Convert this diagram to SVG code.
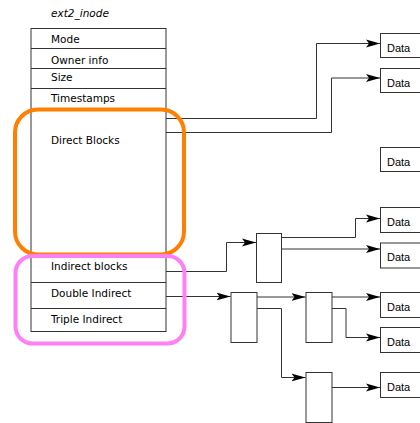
<svg xmlns="http://www.w3.org/2000/svg" width="420" height="423" viewBox="0 0 420 423">
  <defs>
    <marker id="arrow" markerUnits="userSpaceOnUse" markerWidth="15" markerHeight="10" refX="14" refY="5" orient="auto">
      <path d="M0,1 L14,5 L0,9 L3,5 Z" fill="#000"/>
    </marker>
    <style>
      .box { fill: #fff; stroke: #333; stroke-width: 1; }
      .row { stroke: #333; stroke-width: 1; }
      .field { font-family: "DejaVu Sans", sans-serif; font-size: 10.5px; fill: #000; }
      .title { font-family: "DejaVu Sans", sans-serif; font-size: 10.5px; font-style: italic; fill: #000; }
      .data { font-family: "Liberation Sans", Arial, sans-serif; font-size: 11px; fill: #000; }
      .wire { fill: none; stroke: #333; stroke-width: 1; marker-end: url(#arrow); }
    </style>
  </defs>
  <rect width="420" height="423" fill="#fff"/>

  <!-- inode structure -->
  <g id="inode">
    <text class="title" x="51" y="17">ext2_inode</text>
    <rect class="box" x="31" y="28.5" width="135" height="303"/>
    <line class="row" x1="31" y1="48.5" x2="166" y2="48.5"/>
    <line class="row" x1="31" y1="68.5" x2="166" y2="68.5"/>
    <line class="row" x1="31" y1="88.5" x2="166" y2="88.5"/>
    <line class="row" x1="31" y1="256.5" x2="166" y2="256.5"/>
    <line class="row" x1="31" y1="282.5" x2="166" y2="282.5"/>
    <line class="row" x1="31" y1="308.5" x2="166" y2="308.5"/>
    <text class="field" x="51" y="43">Mode</text>
    <text class="field" x="51" y="64">Owner info</text>
    <text class="field" x="51" y="81">Size</text>
    <text class="field" x="51" y="102">Timestamps</text>
    <text class="field" x="51" y="144">Direct Blocks</text>
    <text class="field" x="51" y="270">Indirect blocks</text>
    <text class="field" x="51" y="297">Double Indirect</text>
    <text class="field" x="51" y="323">Triple Indirect</text>
  </g>

  <!-- pointer blocks -->
  <g id="ind1"><rect class="box" x="256.5" y="233.5" width="25" height="49"/></g>
  <g id="dind1"><rect class="box" x="231" y="292.5" width="26" height="50"/></g>
  <g id="dind2"><rect class="box" x="306" y="292.5" width="26" height="50"/></g>
  <g id="dind3"><rect class="box" x="306" y="372.5" width="26" height="50"/></g>

  <!-- data blocks -->
  <g id="data1"><rect class="box" x="380.5" y="33.5" width="50" height="24"/><text class="data" x="387" y="52">Data</text></g>
  <g id="data2"><rect class="box" x="380.5" y="68.5" width="50" height="24"/><text class="data" x="387" y="87">Data</text></g>
  <g id="data3"><rect class="box" x="380.5" y="147.5" width="50" height="24"/><text class="data" x="387" y="166">Data</text></g>
  <g id="data4"><rect class="box" x="380.5" y="207.5" width="50" height="25"/><text class="data" x="387" y="226">Data</text></g>
  <g id="data5"><rect class="box" x="380.5" y="243" width="50" height="25"/><text class="data" x="387" y="261">Data</text></g>
  <g id="data6"><rect class="box" x="380.5" y="292.5" width="50" height="25"/><text class="data" x="387" y="311">Data</text></g>
  <g id="data7"><rect class="box" x="380.5" y="327.5" width="50" height="25"/><text class="data" x="387" y="346">Data</text></g>
  <g id="data8"><rect class="box" x="380.5" y="372.5" width="50" height="25"/><text class="data" x="387" y="391">Data</text></g>

  <!-- connectors -->
  <g id="connectors">
    <path class="wire" d="M166,118.5 H316.5 V43.5 H380"/>
    <path class="wire" d="M166,132.5 H331.5 V78 H380"/>
    <path class="wire" d="M166,271.5 H226.5 V242.5 H256"/>
    <path class="wire" d="M281.5,237.5 H355.5 V218.5 H380"/>
    <path class="wire" d="M281.5,249 H380"/>
    <path class="wire" d="M166,296.5 H230.5"/>
    <path class="wire" d="M257,297 H305.5"/>
    <path class="wire" d="M257,308.5 H281.5 V377.5 H305.5"/>
    <path class="wire" d="M332,297 H380"/>
    <path class="wire" d="M332,308.5 H346 V337.5 H380"/>
    <path class="wire" d="M332,387.5 H380"/>
  </g>

  <!-- groupings -->
  <g id="direct-group">
    <rect x="15" y="109.5" width="169" height="145" rx="23" fill="none" stroke="#ff8000" stroke-width="4"/>
  </g>
  <g id="indirect-group">
    <rect x="15.5" y="256" width="169" height="87.5" rx="17" fill="none" stroke="#ff80f4" stroke-width="4"/>
  </g>
</svg>
